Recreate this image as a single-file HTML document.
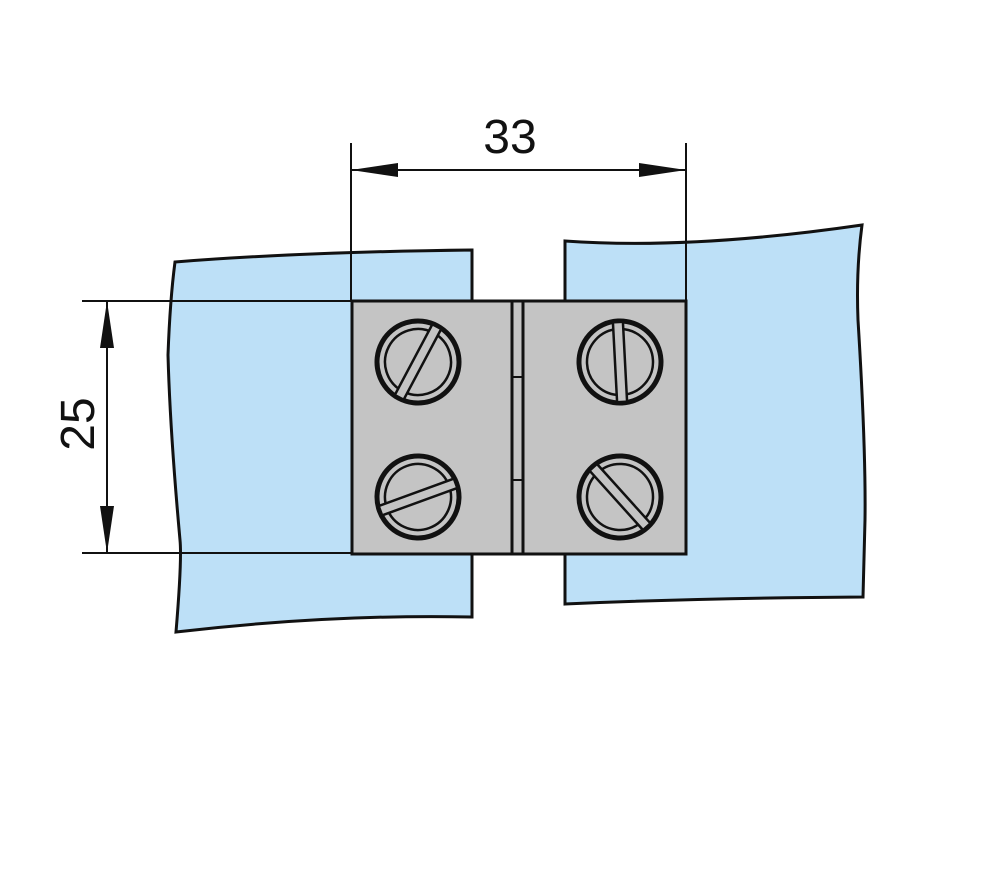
<!DOCTYPE html>
<html><head><style>html,body{margin:0;padding:0;background:#fff}svg{display:block}</style></head>
<body>
<svg width="988" height="887" viewBox="0 0 988 887" xmlns="http://www.w3.org/2000/svg">
<defs>
<g id="scr">
<circle r="41" fill="none" stroke="#111" stroke-width="5"/>
<circle r="33" fill="none" stroke="#111" stroke-width="2.5"/>
<rect x="-5" y="-40" width="10" height="80" fill="#c4c4c4" stroke="#111" stroke-width="2.5"/>
</g>
</defs>
<!-- glass panels -->
<path d="M175,262 Q300,252 472,250 L472,617 Q330,614 176,632 Q182,560 180,540 Q170,430 168,355 Q170,300 175,262 Z" fill="#bde0f7" stroke="#111" stroke-width="3"/>
<path d="M565,241 Q690,250 862,225 Q856,270 858,320 Q866,450 865,520 L863,597 Q700,598 565,604 Z" fill="#bde0f7" stroke="#111" stroke-width="3"/>
<!-- plate -->
<rect x="352" y="301" width="334" height="253" fill="#c4c4c4" stroke="#111" stroke-width="3"/>
<line x1="512" y1="301" x2="512" y2="554" stroke="#111" stroke-width="3"/>
<line x1="523" y1="301" x2="523" y2="554" stroke="#111" stroke-width="3"/>
<line x1="512" y1="377" x2="523" y2="377" stroke="#111" stroke-width="2"/>
<line x1="512" y1="480" x2="523" y2="480" stroke="#111" stroke-width="2"/>
<use href="#scr" transform="translate(418,362) rotate(28)"/>
<use href="#scr" transform="translate(620,362) rotate(-3)"/>
<use href="#scr" transform="translate(418,497) rotate(70)"/>
<use href="#scr" transform="translate(620,497) rotate(-42)"/>
<!-- dimensions -->
<g stroke="#111" stroke-width="2">
<line x1="351" y1="143" x2="351" y2="301"/>
<line x1="686" y1="143" x2="686" y2="301"/>
<line x1="351" y1="170" x2="686" y2="170"/>
<line x1="82" y1="301" x2="352" y2="301"/>
<line x1="82" y1="553" x2="352" y2="553"/>
<line x1="107" y1="301" x2="107" y2="553"/>
</g>
<g fill="#111">
<polygon points="351,170 398,163 398,177"/>
<polygon points="686,170 639,163 639,177"/>
<polygon points="107,301 100,348 114,348"/>
<polygon points="107,553 100,506 114,506"/>
</g>
<text x="510" y="153" font-family="Liberation Sans, sans-serif" font-size="48" text-anchor="middle" fill="#111">33</text>
<text transform="translate(94,424) rotate(-90)" font-family="Liberation Sans, sans-serif" font-size="48" text-anchor="middle" fill="#111">25</text>
</svg>
</body></html>
